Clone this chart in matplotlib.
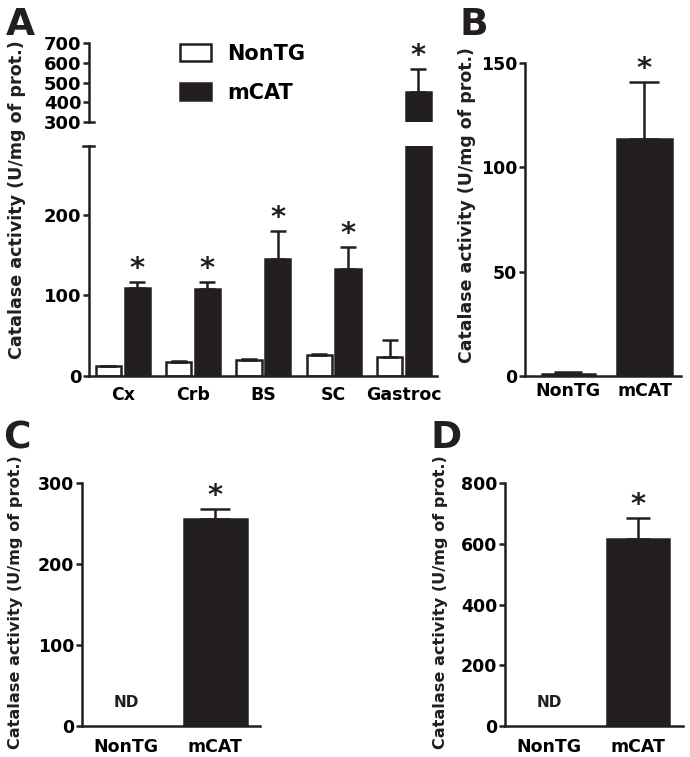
import matplotlib
matplotlib.use('Agg')
import matplotlib.pyplot as plt
from matplotlib.lines import Line2D
import numpy as np

plt.rcParams['font.family'] = ['DejaVu Sans']
plt.rcParams['font.weight'] = 'bold'

BLACK = '#231f20'

# panel A: catalase activity by tissue
tissues = ['Cx', 'Crb', 'BS', 'SC', 'Gastroc']
nontg_a = [12, 17, 20, 26, 24]
nontg_a_err = [1, 2, 1, 1, 20]
mcat_a = [109, 108, 145, 133, 452]
mcat_a_err = [8, 9, 35, 27, 115]

# panels B, C, D
groups = ['NonTG', 'mCAT']
vals_b = [1, 113.5]
err_b = [1, 27.5]
vals_c = [0, 255]
err_c = [0, 13]
vals_d = [0, 616]
err_d = [0, 69]

W, H = 690, 757
fig = plt.figure(figsize=(W / 100, H / 100), dpi=100)


def box(l, t, r, b):
    return fig.add_axes([l / W, 1 - b / H, (r - l) / W, (b - t) / H])


def style(ax, fs=12.5):
    for s in ('top', 'right'):
        ax.spines[s].set_visible(False)
    for s in ('left', 'bottom'):
        ax.spines[s].set_linewidth(1.8)
        ax.spines[s].set_color(BLACK)
    ax.tick_params(axis='y', direction='out', length=4.5, width=1.8,
                   color=BLACK, labelsize=fs, pad=1)
    ax.tick_params(axis='x', length=0, labelsize=fs)
    ax.patch.set_alpha(0)


def star(ax, x, y):
    ax.annotate('*', (x, y), xytext=(0, 3.5), textcoords='offset points',
                ha='center', va='baseline', fontsize=21, color=BLACK,
                annotation_clip=False)


def bars(ax, x, vals, errs, w, fill, capsize):
    ax.bar(x, vals, w, color=fill, edgecolor=BLACK, linewidth=1.8)
    ax.errorbar(x, vals, yerr=[np.zeros(len(vals)), errs], fmt='none',
                ecolor=BLACK, elinewidth=1.8, capsize=capsize, capthick=1.8)


# ---- A ----
x = np.arange(len(tissues))
w, off = 0.36, 0.205
axL = box(89, 146, 437, 376)
axU = box(89, 43, 437, 122)
for ax in (axL, axU):
    bars(ax, x - off, nontg_a, nontg_a_err, w, 'white', 5.5)
    bars(ax, x + off, mcat_a, mcat_a_err, w, BLACK, 5.5)
    ax.set_xlim(-0.48, 4.47)
    style(ax, 13)
axL.set_ylim(0, 285)
axL.set_yticks([0, 100, 200])
axL.set_xticks(x)
axL.set_xticklabels(tissues, fontsize=12.5)
axL.tick_params(axis='x', pad=7)
axU.set_ylim(300, 700)
axU.set_yticks([300, 400, 500, 600, 700])
axU.spines['bottom'].set_visible(False)
axU.set_xticks([])
for xi, m, e in zip(x, mcat_a, mcat_a_err):
    star(axL if m + e < 285 else axU, xi + off, m + e)

# broken axis marks
fig.add_artist(Line2D([83 / W, 94 / W], [1 - 146 / H] * 2, color=BLACK, lw=1.8))
fig.add_artist(Line2D([89 / W, 94 / W], [1 - 122 / H] * 2, color=BLACK, lw=1.8))

h1 = plt.Rectangle((0, 0), 1, 1, facecolor='white', edgecolor=BLACK, lw=1.8)
h2 = plt.Rectangle((0, 0), 1, 1, facecolor=BLACK, edgecolor=BLACK, lw=1.8)
fig.legend([h1, h2], groups, loc='upper left',
           bbox_to_anchor=(180 / W, 1 - 44 / H), bbox_transform=fig.transFigure,
           frameon=False, fontsize=15, handlelength=1.5, handleheight=0.9,
           handletextpad=0.75, labelspacing=0.9, borderpad=0, borderaxespad=0)

# ---- B ----
axB = box(525, 63, 681, 376)
bars(axB, [0], vals_b[:1], err_b[:1], 0.7, 'white', 10)
bars(axB, [1], vals_b[1:], err_b[1:], 0.72, BLACK, 10.5)
axB.set_xlim(-0.57, 1.48)
axB.set_ylim(0, 150)
axB.set_yticks([0, 50, 100, 150])
axB.set_xticks([0, 1])
axB.set_xticklabels(groups, fontsize=11)
style(axB)
axB.tick_params(axis='x', pad=4)
star(axB, 1, vals_b[1] + err_b[1])

# ---- C ----
axC = box(82, 483, 260, 726)
bars(axC, [1], vals_c[1:], err_c[1:], 0.7, BLACK, 10.5)
axC.set_xlim(-0.49, 1.5)
axC.set_ylim(0, 300)
axC.set_yticks([0, 100, 200, 300])
axC.set_xticks([0, 1])
axC.set_xticklabels(groups, fontsize=12)
style(axC)
axC.tick_params(axis='x', pad=9)
star(axC, 1, vals_c[1] + err_c[1])
axC.annotate('ND', (0, 0), xytext=(0, 17), textcoords='offset points',
             ha='center', va='center', fontsize=11, color=BLACK)

# ---- D ----
axD = box(505, 483, 683, 726)
bars(axD, [1], vals_d[1:], err_d[1:], 0.7, BLACK, 8.5)
axD.set_xlim(-0.5, 1.51)
axD.set_ylim(0, 800)
axD.set_yticks([0, 200, 400, 600, 800])
axD.set_xticks([0, 1])
axD.set_xticklabels(groups, fontsize=12)
style(axD)
axD.tick_params(axis='x', pad=9)
star(axD, 1, vals_d[1] + err_d[1])
axD.annotate('ND', (0, 0), xytext=(0, 17), textcoords='offset points',
             ha='center', va='center', fontsize=11, color=BLACK)

# y labels and panel letters
ylab = 'Catalase activity (U/mg of prot.)'
for px, py, fs in [(17, 200, 12.6), (467, 205, 12.5), (16, 602, 11.6), (441, 602, 11.6)]:
    fig.text(px / W, 1 - py / H, ylab, rotation=90, ha='center', va='center',
             fontsize=fs, color=BLACK)
for px, py, s in [(6, 35, 'A'), (459, 35, 'B'), (3, 448, 'C'), (431, 448, 'D')]:
    fig.text(px / W, 1 - py / H, s, ha='left', va='baseline', fontsize=27,
             color=BLACK)

fig.savefig('out.png', dpi=100)
